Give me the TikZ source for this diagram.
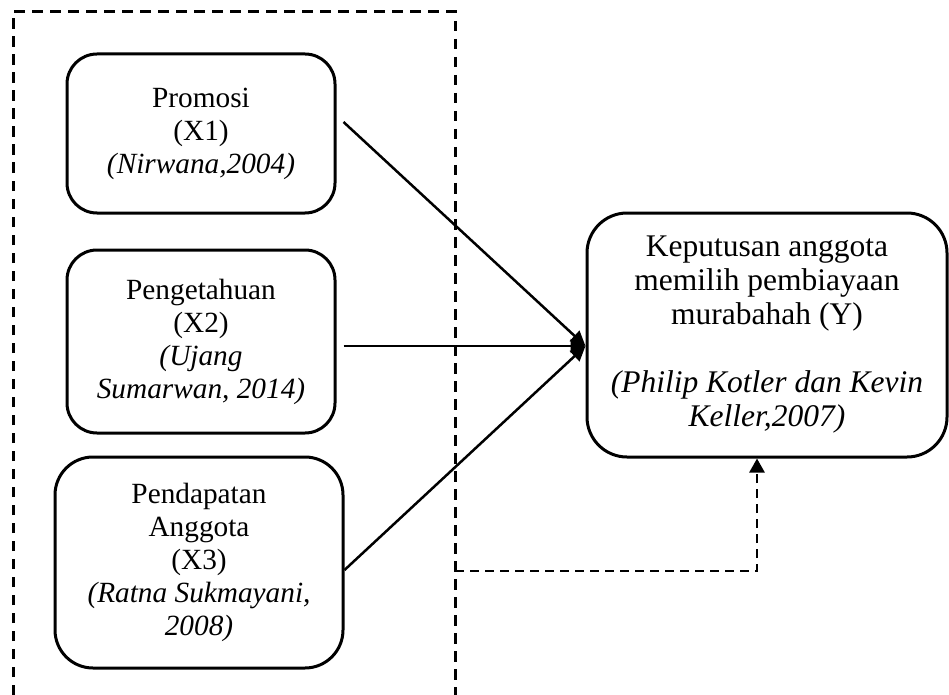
\documentclass[tikz,border=0pt]{standalone}
\usepackage{fontspec}
\setmainfont{Liberation Serif}
\usetikzlibrary{arrows.meta,calc}
\begin{document}
\begin{tikzpicture}[x=1pt,y=-1pt,
  box/.style={draw,line width=3pt,rounded corners=30pt,align=center,
    font=\fontsize{29.3}{33}\selectfont,inner sep=0pt},
  bigbox/.style={box,font=\fontsize{31.5}{34}\selectfont},
  conn/.style={line width=2.5pt,-{Triangle[length=15pt,width=14pt]}},
  frame/.style={line width=3pt,dash pattern=on 10.5pt off 7.5pt},
  fb/.style={line width=2.6pt,dash pattern=on 9pt off 6pt,-{Triangle[length=14pt,width=15pt]}}]
\useasboundingbox (0,0) rectangle (949,695);

% dashed frame
\draw[frame] (13,695) -- (13,12) -- (455,12) -- (455,695);
\coordinate (fbstart) at (455,571);

% boxes
\node[box,minimum width=268pt,minimum height=159pt] (b1) at (201,133.5)
  {Promosi\\(X1)\\\textit{(Nirwana,2004)}};
\node[box,minimum width=268pt,minimum height=183pt] (b2) at (201,341.5)
  {Pengetahuan\\(X2)\\\textit{(Ujang}\\\textit{Sumarwan, 2014)}};
\node[box,rounded corners=38pt,minimum width=288pt,minimum height=211pt] (b3) at (199,562.5)
  {Pendapatan\\Anggota\\(X3)\\\textit{(Ratna Sukmayani,}\\\textit{2008)}};
\node[bigbox,rounded corners=40pt,minimum width=360pt,minimum height=244pt] (y) at (767,335)
  {Keputusan anggota\\memilih pembiayaan\\murabahah (Y)\\[34pt]\textit{(Philip Kotler dan Kevin}\\\textit{Keller,2007)}};

% connectors
\coordinate (tip) at ([yshift=-11pt]y.west);
\draw[conn] ([shift={(7pt,11.5pt)}]b1.east) -- (tip);
\draw[conn] ([shift={(7pt,-4.5pt)}]b2.east) -- (tip);
\draw[conn] ([yshift=-7.5pt]b3.east) -- (tip);

% feedback dashed arrow
\draw[fb] (fbstart) -| ([xshift=-10pt]y.south);
\end{tikzpicture}
\end{document}
